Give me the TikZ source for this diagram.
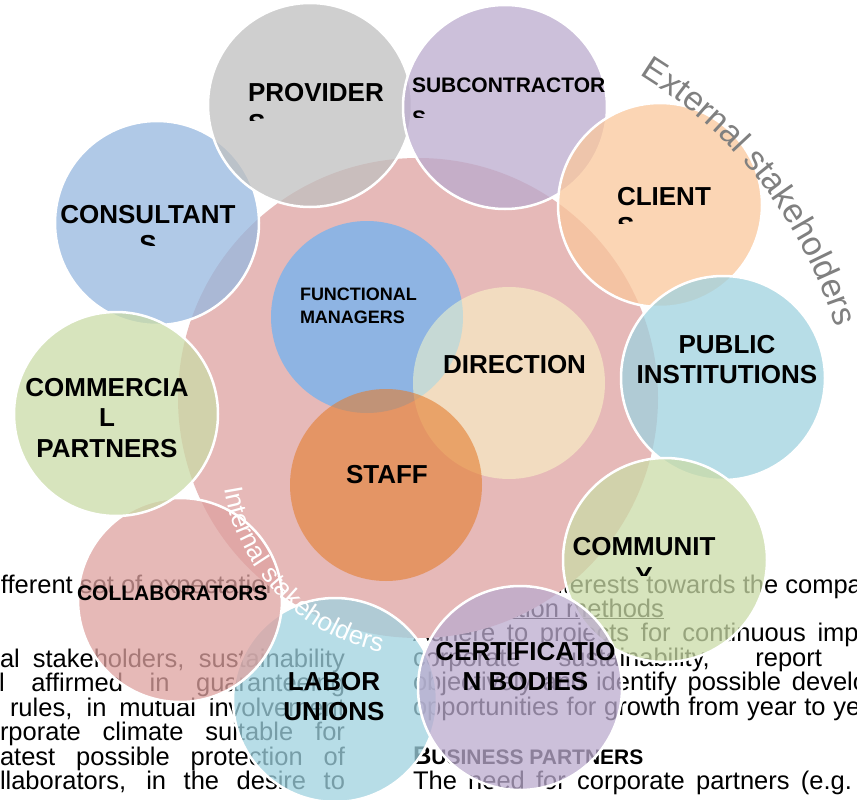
\documentclass[tikz,border=0pt]{standalone}
\usepackage{fontspec}
\setmainfont{Liberation Sans}
\usetikzlibrary{decorations.text}

\definecolor{bigpink}{HTML}{E6B9B8}
\definecolor{cconsult}{HTML}{96B8E0}
\definecolor{cprov}{HTML}{C0C0C0}
\definecolor{csub}{HTML}{BBABCE}
\definecolor{cclient}{HTML}{FAC79C}
\definecolor{cpublic}{HTML}{9FD2E0}
\definecolor{ccommun}{HTML}{CADBA7}
\definecolor{ccert}{HTML}{BBABCE}
\definecolor{clabor}{HTML}{9FD2E0}
\definecolor{ccollab}{HTML}{DEA2A0}
\definecolor{ccommerc}{HTML}{CADBA7}
\definecolor{cfm}{HTML}{8EB4E3}
\definecolor{cdir}{HTML}{FEFFC8}
\definecolor{cstaff}{HTML}{E47D2F}
\definecolor{extgray}{HTML}{808080}

\begin{document}
\begin{tikzpicture}[x=1pt,y=-1pt,
  every node/.style={inner sep=0pt, outer sep=0pt},
  body/.style={font=\fontsize{25.5}{24.5}\selectfont, anchor=base west},
  stake/.style={circle, minimum size=204pt, draw=white, line width=2.5pt, fill opacity=0.75},
  core/.style={circle, minimum size=192pt},
  lbl/.style={font=\bfseries\fontsize{26}{30}\selectfont, align=center, anchor=north},
  lbll/.style={font=\bfseries\fontsize{26}{30}\selectfont, align=left, anchor=north west},
]
\useasboundingbox (0,0) rectangle (857,800);
\clip (0,0) rectangle (857,800);
\fill[white] (0,0) rectangle (857,800);

% ---- page text behind the diagram ----
\node[body] (l0) at (1,593) {fferent set of expectations};
\node[body] (l1) at (0,667) {\makebox[345pt][s]{al stakeholders, sustainability}};
\node[body] (l2) at (-1,691.5) {\makebox[346pt][s]{l affirmed in guaranteeing}};
\node[body] (l3) at (10,716) {\makebox[335pt][s]{rules, in mutual involvement}};
\node[body] (l4) at (0,740.5) {\makebox[345pt][s]{rporate climate suitable for}};
\node[body] (l5) at (0,765) {\makebox[345pt][s]{atest possible protection of}};
\node[body] (l6) at (0,789.5) {\makebox[345pt][s]{llaborators, in the desire to}};

\node[body] (r1) at (543,593) {interests towards the company};
\node[body] (r2) at (440,617) {\underline{Evaluation methods}};
\node[body] (r3) at (413,641.5) {\makebox[552pt][s]{Adhere to projects for continuous improvement}};
\node[body] (r4) at (413,666) {\makebox[409pt][s]{corporate sustainability, report}};
\node[body] (r5) at (413,690.5) {\makebox[525pt][s]{objectively and identify possible development}};
\node[body] (r6) at (413,715) {\makebox[470pt][s]{opportunities for growth from year to year}};
\node[body] (r7) at (413,764) {\bfseries B{\fontsize{21}{24}\selectfont USINESS PARTNERS}};
\node[body] (r8) at (413,789) {\makebox[439pt][s]{The need for corporate partners (e.g.}};

% ---- internal area ----
\node[circle, minimum size=480pt, fill=bigpink] (inner) at (418,398) {};

% ---- external stakeholders ring ----
\node[stake, fill=cconsult] (consult) at (157,223) {};
\node[stake, fill=cprov] (prov) at (310,105) {};
\node[stake, fill=csub] (sub) at (505,107) {};
\node[stake, fill=cclient] (client) at (660,205) {};
\node[stake, fill=cpublic] (public) at (723,378) {};
\node[stake, fill=ccommun] (commun) at (665,560) {};
\node[stake, fill=clabor] (labor) at (335,700) {};
\node[stake, fill=ccert] (cert) at (520,688) {};
\node[stake, fill=ccollab] (collab) at (180,600) {};
\node[stake, fill=ccommerc] (commerc) at (116,414) {};

% ---- internal stakeholders ----
\node[core, fill=cfm] (fm) at (367,317) {};
\node[core, fill=cdir, fill opacity=0.5] (dir) at (509,383) {};
\node[core, fill=cstaff, fill opacity=0.6] (staff) at (386,485) {};

% ---- labels ----
\begin{scope}
  \clip (0,0) rectangle (857,120);
  \node[lbll, font=\bfseries\fontsize{26}{31.7}\selectfont] (tprov) at (248,83) {PROVIDER\\S};
\end{scope}
\begin{scope}
  \clip (0,0) rectangle (857,117);
  \node[lbll, font=\bfseries\fontsize{21}{33}\selectfont] (tsub) at (412,78) {SUBCONTRACTOR\\S};
\end{scope}
\begin{scope}
  \clip (0,0) rectangle (857,223);
  \node[lbll] (tclient) at (617,187) {CLIENT\\S};
\end{scope}
\begin{scope}
  \clip (0,0) rectangle (857,245);
  \node[lbl] (tconsult) at (148,205) {CONSULTANT\\S};
\end{scope}
\begin{scope}
  \clip (0,0) rectangle (857,575);
  \node[lbl] (tcommun) at (644,537) {COMMUNIT\\Y};
\end{scope}
\node[lbl, font=\bfseries\fontsize{26}{30.5}\selectfont] (tcommerc) at (107,378) {COMMERCIA\\L\\PARTNERS};
\node[lbll, font=\bfseries\fontsize{21}{25}\selectfont] (tcollab) at (77,586) {COLLABORATORS};
\node[lbl] (tlabor) at (334,672) {LABOR\\UNIONS};
\node[lbl] (tcert) at (525.5,642) {CERTIFICATIO\\N BODIES};
\node[lbl] (tpublic) at (727,335) {PUBLIC\\INSTITUTIONS};
\node[lbll, font=\bfseries\fontsize{18}{23}\selectfont] (tfm) at (300,288) {FUNCTIONAL\\MANAGERS};
\node[lbll] (tdir) at (443,355) {DIRECTION};
\node[lbll] (tstaff) at (346,465) {STAFF};

% ---- group captions along arcs ----
\path[decorate, decoration={text along path, text color=extgray,
    text={|\fontsize{34}{34}\selectfont|External stakeholders}}]
  (403,461) ++(-58.5:453) arc[start angle=-58.5, end angle=-5, radius=453];
\path[decorate, decoration={text along path, text color=white,
    text={|\fontsize{26}{26}\selectfont|Internal stakeholders}}]
  (421,457) ++(-189:199) arc[start angle=-189, end angle=-272, radius=199];
\end{tikzpicture}
\end{document}
